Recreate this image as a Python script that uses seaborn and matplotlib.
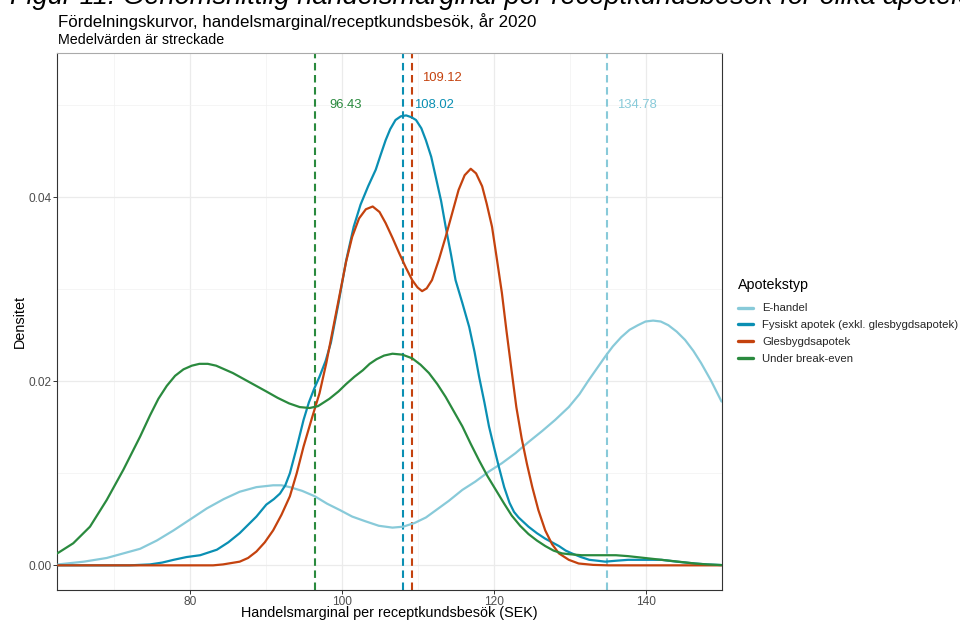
import numpy as np
import pandas as pd
import matplotlib
matplotlib.use("Agg")
import matplotlib.pyplot as plt
import seaborn as sns

# ---------------- data ----------------
series_names = ["E-handel", "Fysiskt apotek (exkl. glesbygdsapotek)",
                "Glesbygdsapotek", "Under break-even"]
series_colors = ["#88CAD9", "#0A8FB3", "#C4420E", "#2A8A3E"]

ehandel_x = [62.6, 66.0, 69.0, 71.2, 73.4, 75.6, 77.8, 80.0, 82.2, 84.4, 86.5, 88.7,
             90.9, 92.0, 93.1, 94.7, 96.4, 98.0, 99.7, 101.3, 103.0, 104.8, 106.6,
             108.0, 109.5, 111.0, 112.5, 114.0, 115.8, 117.5, 119.3, 121.0, 122.8,
             124.5, 126.3, 128.0, 129.8, 131.2, 132.4, 133.5, 134.6, 135.6, 136.7,
             137.8, 138.9, 139.9, 140.9, 141.9, 142.9, 144.0, 145.1, 146.2, 147.2,
             148.5, 149.9]
ehandel_y = [0.0001, 0.0004, 0.0008, 0.0013, 0.0018, 0.0027, 0.0038, 0.0050, 0.0062,
             0.0072, 0.0080, 0.0085, 0.0087, 0.0087, 0.0085, 0.0081, 0.0075, 0.0067,
             0.0060, 0.0053, 0.0048, 0.0043, 0.0041, 0.0042, 0.0046, 0.0052, 0.0061,
             0.0070, 0.0082, 0.0091, 0.0102, 0.0111, 0.0122, 0.0134, 0.0146, 0.0158,
             0.0172, 0.0186, 0.0201, 0.0214, 0.0227, 0.0238, 0.0248, 0.0256, 0.0261,
             0.0265, 0.0266, 0.0265, 0.0261, 0.0254, 0.0245, 0.0233, 0.0220, 0.0201,
             0.0178]

fysiskt_x = [62.6, 72.0, 74.7, 76.3, 77.8, 79.5, 81.3, 83.5, 85.0, 86.5, 87.6, 88.7,
             90.0, 91.0, 91.8, 92.5, 93.1, 94.0, 94.9, 95.6, 96.3, 97.0, 97.8, 98.5,
             99.5, 100.5, 101.5, 102.4, 103.4, 104.4, 105.0, 105.7, 106.3, 107.0,
             107.7, 108.4, 109.1, 109.7, 110.4, 111.0, 111.7, 112.3, 113.0, 113.6,
             114.3, 114.9, 115.8, 116.7, 117.4, 118.0, 118.7, 119.3, 120.0, 120.6,
             121.3, 122.0, 122.6, 123.2, 124.5, 125.6, 126.7, 127.6, 128.5, 129.4,
             130.2, 131.4, 132.5, 133.6, 134.6, 136.0, 137.6, 140.0, 142.0, 144.0,
             146.4, 148.0, 149.9]
fysiskt_y = [0.0, 0.0, 0.0001, 0.0003, 0.0006, 0.0009, 0.0011, 0.0017, 0.0025, 0.0035,
             0.0044, 0.0053, 0.0066, 0.0072, 0.0078, 0.0087, 0.0100, 0.0128, 0.0158,
             0.0177, 0.0192, 0.0205, 0.0222, 0.0242, 0.0285, 0.0331, 0.0368, 0.0392,
             0.0412, 0.0430, 0.0445, 0.0462, 0.0474, 0.0484, 0.0488, 0.0489, 0.0487,
             0.0484, 0.0475, 0.0462, 0.0444, 0.0422, 0.0396, 0.0368, 0.0338, 0.0310,
             0.0285, 0.0259, 0.0232, 0.0205, 0.0177, 0.0151, 0.0127, 0.0107, 0.0085,
             0.0068, 0.0058, 0.0052, 0.0042, 0.0035, 0.0029, 0.0025, 0.0021, 0.0016,
             0.0013, 0.0009, 0.0006, 0.0005, 0.0004, 0.0005, 0.0006, 0.0006, 0.0006,
             0.0004, 0.0002, 0.0001, 0.00003]

glesbygd_x = [62.6, 83.0, 84.3, 86.5, 87.6, 88.7, 89.8, 90.9, 92.0, 93.1, 94.0, 94.9,
              96.0, 97.0, 97.9, 98.7, 99.6, 100.5, 101.3, 102.2, 103.1, 104.0, 104.9,
              105.7, 106.6, 107.5, 108.4, 109.2, 109.9, 110.5, 111.1, 111.8, 112.7,
              113.6, 114.5, 115.3, 116.1, 116.9, 117.6, 118.4, 119.0, 119.7, 120.3,
              121.0, 121.6, 122.3, 122.9, 123.6, 124.3, 125.0, 125.8, 126.7, 127.6,
              128.5, 129.8, 131.1, 133.0, 135.0, 149.9]
glesbygd_y = [0.0, 0.0, 0.0001, 0.0004, 0.0008, 0.0015, 0.0025, 0.0038, 0.0055, 0.0075,
              0.0100, 0.0129, 0.0160, 0.0187, 0.0220, 0.0254, 0.0292, 0.0330, 0.0357,
              0.0377, 0.0387, 0.0390, 0.0384, 0.0372, 0.0356, 0.0339, 0.0323, 0.0310,
              0.0302, 0.0298, 0.0301, 0.0310, 0.0332, 0.0357, 0.0384, 0.0408, 0.0424,
              0.0431, 0.0426, 0.0412, 0.0393, 0.0368, 0.0335, 0.0296, 0.0255, 0.0210,
              0.0172, 0.0138, 0.0110, 0.0085, 0.0060, 0.0038, 0.0023, 0.0013, 0.0006,
              0.0002, 0.00005, 0.0, 0.0]

under_x = [62.5, 64.6, 66.8, 69.0, 71.2, 73.4, 74.7, 75.8, 76.9, 78.0, 79.1, 80.2, 81.2,
           82.3, 83.4, 84.5, 85.6, 87.8, 90.0, 91.5, 93.0, 94.4, 95.7, 96.8, 98.3,
           99.5, 100.5, 101.6, 102.7, 103.6, 104.5, 105.5, 106.6, 107.9, 109.2, 110.3,
           111.4, 112.5, 113.6, 114.7, 115.8, 116.9, 118.0, 119.1, 120.2, 121.3, 122.3,
           123.4, 124.5, 125.6, 126.7, 127.8, 128.9, 130.0, 131.5, 133.0, 134.6, 136.0,
           137.6, 139.8, 142.0, 144.2, 146.4, 148.0, 149.9]
under_y = [0.0013, 0.0024, 0.0042, 0.0071, 0.0104, 0.0140, 0.0163, 0.0181, 0.0195,
           0.0206, 0.0213, 0.0217, 0.0219, 0.0219, 0.0217, 0.0213, 0.0209, 0.0199,
           0.0189, 0.0182, 0.0176, 0.0172, 0.0171, 0.0173, 0.0181, 0.0189, 0.0197,
           0.0205, 0.0212, 0.0219, 0.0224, 0.0228, 0.0230, 0.0229, 0.0225, 0.0218,
           0.0209, 0.0197, 0.0183, 0.0167, 0.0151, 0.0132, 0.0114, 0.0097, 0.0082,
           0.0067, 0.0054, 0.0043, 0.0034, 0.0027, 0.0021, 0.0016, 0.0013, 0.0012,
           0.0011, 0.0011, 0.0011, 0.0011, 0.0010, 0.0008, 0.0006, 0.0004, 0.0002,
           0.0001, 0.00003]

means = [134.78, 108.02, 109.12, 96.43]
mean_labels = ["134.78", "108.02", "109.12", "96.43"]
mean_label_y = [0.050, 0.050, 0.053, 0.050]

xticks = [80, 100, 120, 140]
yticks = [0.00, 0.02, 0.04]
ytick_labels = ["0.00", "0.02", "0.04"]

# ---------------- build long table ----------------
frames = []
for name, xs, ys in zip(series_names,
                        [ehandel_x, fysiskt_x, glesbygd_x, under_x],
                        [ehandel_y, fysiskt_y, glesbygd_y, under_y]):
    frames.append(pd.DataFrame({"x": xs, "y": ys, "Apotekstyp": name}))
df = pd.concat(frames, ignore_index=True)

# ---------------- style ----------------
sns.set_theme(style="white")
plt.rcParams["font.family"] = ["Liberation Sans", "DejaVu Sans"]

fig = plt.figure(figsize=(9.6, 6.21), dpi=100)
ax = fig.add_axes([57.3 / 960, 1 - 590 / 621, (722.3 - 57.3) / 960, (590 - 53.3) / 621])

# mean lines
for m, c in zip(means, series_colors):
    ax.axvline(m, color=c, lw=1.5, dashes=(3.6, 2.2), zorder=2)

sns.lineplot(data=df, x="x", y="y", hue="Apotekstyp", hue_order=series_names,
             palette=series_colors, estimator=None, sort=False, lw=1.6, ax=ax,
             zorder=3)

for m, lab, ly, c in zip(means, mean_labels, mean_label_y, series_colors):
    ax.annotate(lab, xy=(m, ly), xytext=(22, 0), textcoords="offset points",
                ha="center", va="center", color=c, fontsize=9.4)

ax.set_xlim(62.5, 149.9)
ax.set_ylim(-0.00268, 0.05565)

ax.set_xticks(xticks)
ax.set_xticks([70, 90, 110, 130, 150], minor=True)
ax.set_yticks(yticks)
ax.set_yticklabels(ytick_labels)
ax.set_yticks([0.01, 0.03, 0.05], minor=True)
ax.grid(True, which="major", color="#EBEBEB", lw=0.9, zorder=0)
ax.grid(True, which="minor", color="#F2F2F2", lw=0.5, zorder=0)
ax.set_axisbelow(True)
ax.tick_params(axis="both", which="major", length=2.8, width=0.7, color="#333333",
               labelsize=8.6, labelcolor="#4D4D4D", pad=1.5, direction="out",
               bottom=True, left=True)
ax.tick_params(axis="both", which="minor", length=0)
for side in ["left", "bottom", "right"]:
    ax.spines[side].set_color("#333333")
    ax.spines[side].set_linewidth(0.8)
ax.spines["top"].set_color("#AAAAAA")
ax.spines["top"].set_linewidth(0.8)

ax.set_xlabel("Handelsmarginal per receptkundsbesök (SEK)", fontsize=10.4, color="black")
ax.set_ylabel("Densitet", fontsize=10.4, color="black")
ax.xaxis.label.set_va("center")
ax.yaxis.label.set_va("center")
ax.xaxis.set_label_coords(0.5, (590 - 613.5) / 536.7)
ax.yaxis.set_label_coords((20 - 57.3) / 665, 0.5)

# legend (title drawn as separate text, left aligned above keys)
sns.move_legend(ax, "upper left", bbox_to_anchor=(738 / 960, 1 - 303.5 / 621),
                bbox_transform=fig.transFigure, title=None, frameon=False,
                fontsize=8.2, handlelength=1.32,
                handletextpad=0.79, labelspacing=0.6, borderpad=0, borderaxespad=0)
leg = ax.get_legend()
for h in leg.legend_handles:
    h.set_linewidth(2.4)
fig.text(738 / 960, 1 - 285 / 621, "Apotekstyp", fontsize=10.3, ha="left",
         va="center", color="black")

# titles
fig.text(10 / 960, 1 - 3.5 / 621,
         "Figur 11. Genomsnittlig handelsmarginal per receptkundsbesök för olika apotekstyper",
         fontsize=19.6, style="italic", va="baseline", ha="left", color="black")
fig.text(58.3 / 960, 1 - 26.7 / 621,
         "Fördelningskurvor, handelsmarginal/receptkundsbesök, år 2020",
         fontsize=12.2, va="baseline", ha="left", color="black")
fig.text(58.3 / 960, 1 - 44.3 / 621, "Medelvärden är streckade",
         fontsize=10.3, va="baseline", ha="left", color="black")

fig.savefig("out.png", dpi=100)
